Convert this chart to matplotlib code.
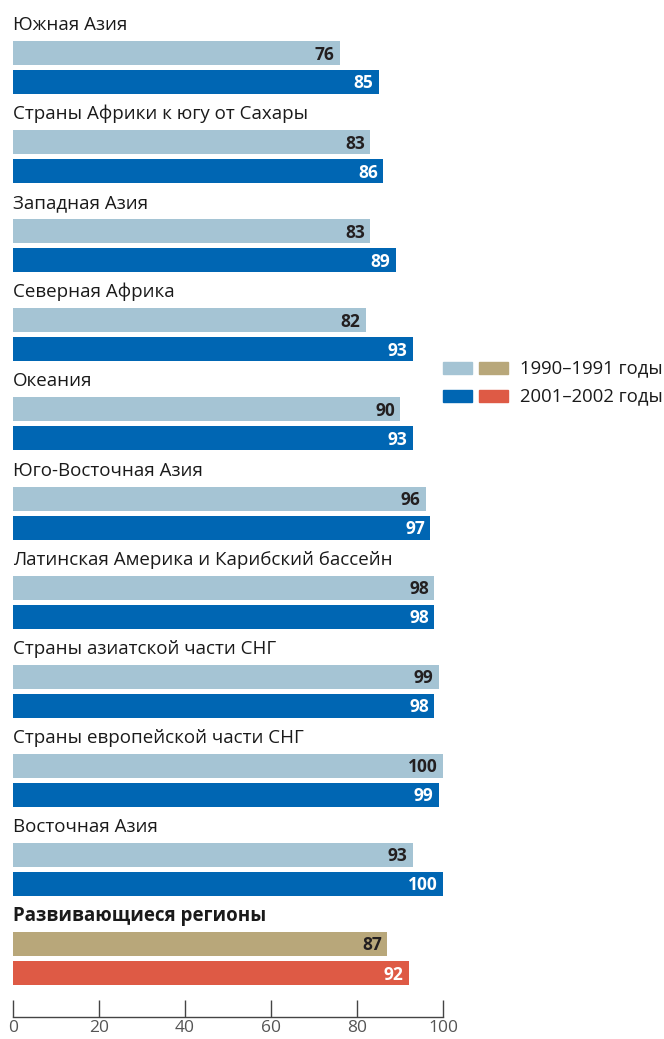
import matplotlib
matplotlib.use("Agg")
import matplotlib.pyplot as plt
from matplotlib.patches import Rectangle

plt.rcParams['font.family'] = ['Open Sans', 'DejaVu Sans']

regions = ["Южная Азия", "Страны Африки к югу от Сахары", "Западная Азия",
           "Северная Африка", "Океания", "Юго-Восточная Азия",
           "Латинская Америка и Карибский бассейн", "Страны азиатской части СНГ",
           "Страны европейской части СНГ", "Восточная Азия",
           "Развивающиеся регионы"]
v1990 = [76, 83, 83, 82, 90, 96, 98, 99, 100, 93, 87]
v2001 = [85, 86, 89, 93, 93, 97, 98, 98, 99, 100, 92]
legend_labels = ["1990–1991 годы", "2001–2002 годы"]

c_light, c_dark = "#A5C4D4", "#0066B3"
c_tan, c_red = "#B8A77A", "#DE5A45"

W, H = 664, 1039
fig = plt.figure(figsize=(W / 100, H / 100), dpi=100)
ax = fig.add_axes([13 / W, (H - 1017) / H, 430 / W, 1017 / H])
ax.set_xlim(0, 100)
ax.set_ylim(1017, 0)

step, first, bh, gap = 89.1, 41, 24, 5
for i, (name, a, b) in enumerate(zip(regions, v1990, v2001)):
    top = first + step * i
    total = i == len(regions) - 1
    ca = c_tan if total else c_light
    cb = c_red if total else c_dark
    y1 = top + bh / 2
    y2 = top + bh + gap + bh / 2
    ax.barh(y1, a, height=bh, color=ca, edgecolor='none')
    ax.barh(y2, b, height=bh, color=cb, edgecolor='none')
    ax.text(0, top - 11, name, fontsize=13.5, color="#1a1a1a",
            fontweight='bold' if total else 'normal', va='baseline', ha='left')
    ax.text(a - 1.2, y1 + 1.5, str(a), fontsize=12.5, fontweight='bold',
            color="#231f20", ha='right', va='center')
    ax.text(b - 1.2, y2 + 1.5, str(b), fontsize=12.5, fontweight='bold',
            color="white", ha='right', va='center')

for s in ['top', 'right', 'left']:
    ax.spines[s].set_visible(False)
ax.spines['bottom'].set_color("#444444")
ax.spines['bottom'].set_linewidth(1)
ax.set_yticks([])
ax.set_xticks([0, 20, 40, 60, 80, 100])
ax.tick_params(axis='x', direction='in', length=12, width=1, color="#444444",
               pad=2, labelsize=12.5, labelcolor="#555555")

# legend drawn by hand
rows = [(c_light, c_tan, legend_labels[0], 362), (c_dark, c_red, legend_labels[1], 390)]
for ca, cb, lab, yp in rows:
    fig.patches.append(Rectangle((443 / W, 1 - (yp + 12) / H), 29 / W, 12 / H,
                                 transform=fig.transFigure, color=ca))
    fig.patches.append(Rectangle((479 / W, 1 - (yp + 12) / H), 29 / W, 12 / H,
                                 transform=fig.transFigure, color=cb))
    fig.text(520 / W, 1 - (yp + 6) / H, lab, fontsize=13.3, color="#1a1a1a",
             va='center', ha='left')

fig.savefig("out.png", dpi=100)
